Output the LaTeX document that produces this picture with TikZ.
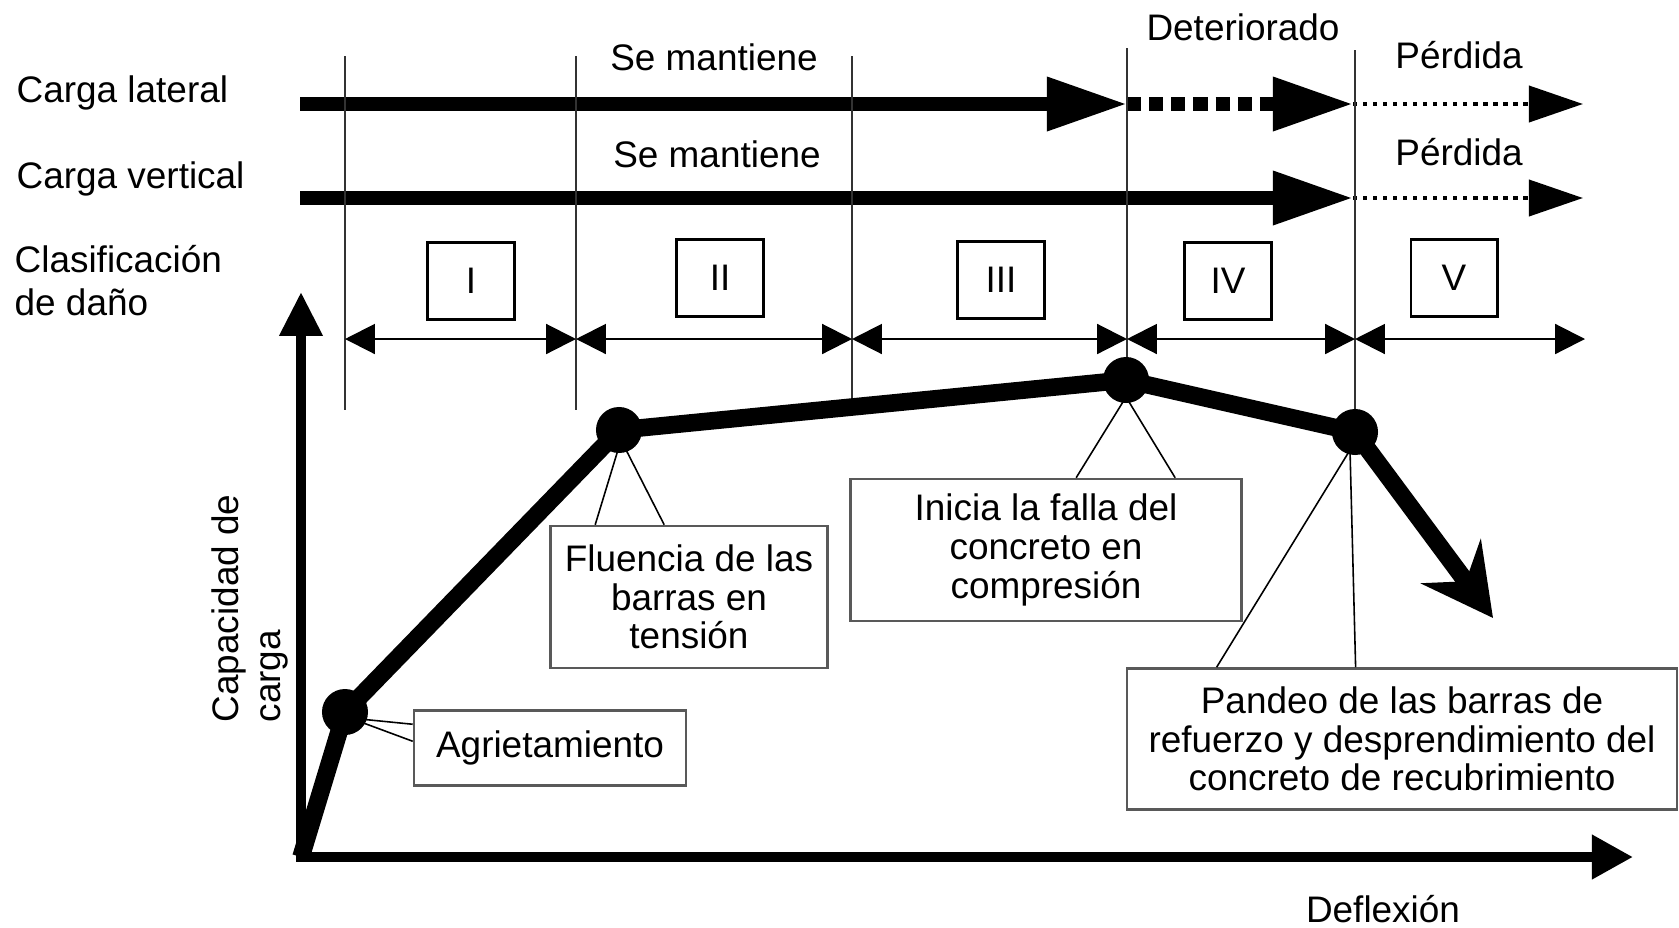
\documentclass[tikz,border=0pt]{standalone}
\usepackage{fontspec}
\setmainfont{Liberation Sans}
\usetikzlibrary{calc, arrows.meta, positioning}

\begin{document}
\begin{tikzpicture}[x=0.01cm, y=-0.01cm, font=\fontsize{10.5}{11}\selectfont, every node/.style={inner sep=0pt}]
	% Styles for loads, stages and curve
	\tikzset{load/.style={line width=3.8pt, -{Triangle[length=22.8pt, width=14.5pt]}}}
	\tikzset{worn/.style={load, dash pattern=on 4pt off 2.3pt}}
	\tikzset{lost/.style={line width=1.3pt, dash pattern=on 1.2pt off 1.65pt, -{Triangle[length=15.4pt, width=10.2pt]}}}
	\tikzset{divider/.style={draw=black!80, line width=0.6pt}}
	\tikzset{dimline/.style={line width=0.6pt, {Triangle[length=8.5pt, width=8.5pt]}-{Triangle[length=8.5pt, width=8.5pt]}}}
	\tikzset{numbox/.style={draw, line width=0.85pt, minimum width=0.86cm, minimum height=0.76cm}}
	\tikzset{note/.style={draw=black!65, line width=0.7pt, align=center}}
	\tikzset{pointer/.style={line width=0.45pt}}
	\tikzset{loadcurve/.style={line width=5pt, line join=round}}
	\tikzset{mainaxis/.style={line width=2.8pt, line cap=rect}}

	\useasboundingbox (0,0) rectangle (1679,927);

	% Row labels
	\node[anchor=base west] (lat) at (16,102) {Carga lateral};
	\node[anchor=base west] (ver) at (16,188) {Carga vertical};
	\node[anchor=base west] (cls1) at (14,272) {Clasificación};
	\node[anchor=base west] (cls2) at (14,315) {de daño};

	% Load states
	\node[anchor=base] (se1) at (714,70) {Se mantiene};
	\node[anchor=base] (se2) at (717,167) {Se mantiene};
	\node[anchor=base] (det) at (1243,40) {Deteriorado};
	\node[anchor=base] (per1) at (1459,68) {Pérdida};
	\node[anchor=base] (per2) at (1459,165) {Pérdida};

	\coordinate (latS) at (300,104);
	\coordinate (latA) at (1127,104);
	\coordinate (latB) at (1353,104);
	\coordinate (latC) at (1583,104);
	\coordinate (verS) at (300,198);
	\coordinate (verA) at (1353,198);
	\coordinate (verB) at (1583,198);

	\draw[load] (latS) -- (latA);
	\draw[worn] (latA) -- (latB);
	\draw[lost] (latB) -- (latC);
	\draw[load] (verS) -- (verA);
	\draw[lost] (verA) -- (verB);

	% Stage dividers
	\coordinate (t1) at (345,56);   \coordinate (b1) at (345,410);
	\coordinate (t2) at (576,56);   \coordinate (b2) at (576,410);
	\coordinate (t3) at (852,56);   \coordinate (b3) at (852,407);
	\coordinate (t4) at (1127,48);  \coordinate (b4) at (1127,380);
	\coordinate (t5) at (1355,50);  \coordinate (b5) at (1355,432);
	\draw[divider] (t1) -- (b1);
	\draw[divider] (t2) -- (b2);
	\draw[divider] (t3) -- (b3);
	\draw[divider] (t4) -- (b4);
	\draw[divider] (t5) -- (b5);

	% Damage classes
	\node[numbox] (n1) at (471,281) {I};
	\node[numbox] (n2) at (720,278) {II};
	\node[numbox] (n3) at (1001,280) {III};
	\node[numbox] (n4) at (1228,281) {IV};
	\node[numbox] (n5) at (1454,278) {V};

	\coordinate (d1) at (345,339);
	\coordinate (d2) at (576,339);
	\coordinate (d3) at (852,339);
	\coordinate (d4) at (1127,339);
	\coordinate (d5) at (1355,339);
	\coordinate (d6) at (1585,339);
	\draw[dimline] (d1) -- (d2);
	\draw[dimline] (d2) -- (d3);
	\draw[dimline] (d3) -- (d4);
	\draw[dimline] (d4) -- (d5);
	\draw[dimline] (d5) -- (d6);

	% Axes
	\coordinate (O) at (301,857);
	\coordinate (ytip) at (301,292);
	\coordinate (xtip) at (1633,857);
	\draw[mainaxis, -{Triangle[length=12.5pt, width=11.7pt]}] (O) -- (ytip);
	\draw[mainaxis, -{Triangle[length=11.7pt, width=12pt]}] (O) -- (xtip);
	\node[rotate=90, anchor=base west] (cap1) at (238,723) {Capacidad de};
	\node[rotate=90, anchor=base west] (cap2) at (280,723) {carga};
	\node[anchor=base] (defl) at (1383,922) {Deflexión};

	% Callouts
	\node[note, minimum width=2.72cm, minimum height=0.75cm] (agr) at (550,748) {Agrietamiento};
	\node[note, minimum width=2.77cm, minimum height=1.42cm] (flu) at (689,597) {Fluencia de las\\barras en\\tensión};
	\node[note, minimum width=3.91cm, minimum height=1.42cm] (ini) at (1046,550) {Inicia la falla del\\concreto en\\compresión};
	\node[note, minimum width=5.50cm, minimum height=1.41cm] (pan) at (1402,739) {Pandeo de las barras de\\refuerzo y desprendimiento del\\concreto de recubrimiento};

	\coordinate (A) at (345,712);
	\coordinate (B) at (619,430);
	\coordinate (C) at (1126,380);
	\coordinate (D) at (1355,432);
	\coordinate (E) at (1493,618);

	\coordinate (pA) at (350,718);
	\coordinate (pB) at (621,440);
	\coordinate (pC) at (1126,397);
	\coordinate (pD) at (1350,450);
	\draw[pointer] (pA) -- ($(agr.north west)+(0,15)$);
	\draw[pointer] (pA) -- ($(agr.north west)+(0,32)$);
	\draw[pointer] (pB) -- ($(flu.north west)+(46,0)$);
	\draw[pointer] (pB) -- ($(flu.north west)+(115,0)$);
	\draw[pointer] (pC) -- ($(ini.north west)+(227,0)$);
	\draw[pointer] (pC) -- ($(ini.north west)+(326,0)$);
	\draw[pointer] (pD) -- ($(pan.north west)+(91,0)$);
	\draw[pointer] (pD) -- ($(pan.north west)+(230,0)$);

	% Load-deflection curve
	\draw[loadcurve] (O) -- (A) -- (B) -- (C) -- (D);
	\draw[loadcurve, -{Stealth[length=20pt, width=21pt, inset=7pt]}] (D) -- (E);
	\fill (A) circle[radius=0.23cm];
	\fill (B) circle[radius=0.23cm];
	\fill (C) circle[radius=0.23cm];
	\fill (D) circle[radius=0.23cm];
\end{tikzpicture}
\end{document}
